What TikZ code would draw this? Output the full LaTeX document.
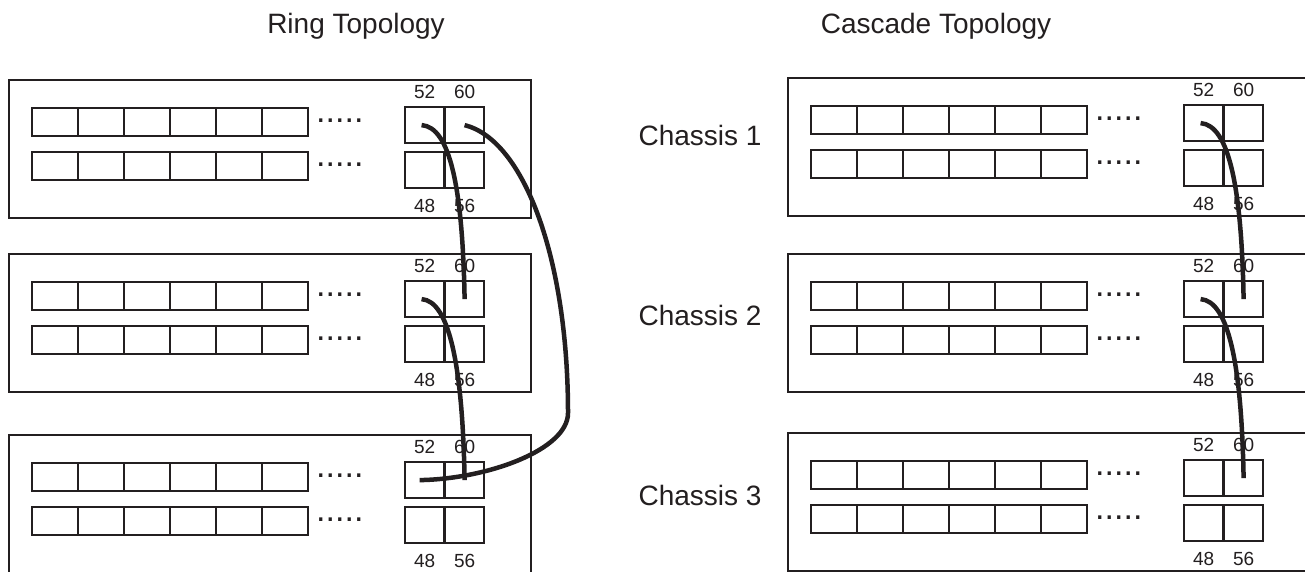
\documentclass[tikz,border=0pt]{standalone}
\usepackage{fontspec}
\setmainfont{Liberation Sans}
\usepackage{tikz}
\usetikzlibrary{positioning}
\definecolor{cableblack}{RGB}{35,31,32}

\tikzset{
  chassisbox/.style={draw=cableblack, line width=1.7pt, minimum width=522pt, minimum height=138pt, inner sep=0pt, anchor=north west},
  cell/.style={draw=cableblack, line width=2.4pt, minimum width=46pt, minimum height=28pt, inner sep=0pt, anchor=north west},
  port/.style={draw=cableblack, line width=2.2pt, minimum width=39pt, minimum height=36pt, inner sep=0pt, anchor=north west},
  portnum/.style={text=cableblack, font=\fontsize{19}{22}\selectfont, inner sep=0pt},
  heading/.style={text=cableblack, font=\fontsize{28}{33}\selectfont, inner sep=0pt, anchor=base},
  dotrow/.style={text=cableblack, font=\fontsize{34}{40}\selectfont, inner sep=0pt, anchor=base west},
  cable/.style={draw=cableblack, line width=4.5pt}
}

\begin{document}
\begin{tikzpicture}[x=1pt, y=-1pt]
  \useasboundingbox[fill=white] (0,0) rectangle (1305,571);

  \node[heading] (ringtitle) at (356,33) {Ring Topology};
  \node[heading] (cascadetitle) at (936,33) {Cascade Topology};

  \foreach \n/\YL/\YR in {1/79/77, 2/253/253, 3/434/432}{
    \foreach \col/\X/\Y in {L/8/\YL, R/787/\YR}{
      \node[chassisbox] (\col\n) at (\X,\Y) {};
      \foreach \i in {0,...,5}{
        \node[cell] (\col\n-a\i) at (\X+23+46*\i,\Y+28) {};
        \node[cell] (\col\n-b\i) at (\X+23+46*\i,\Y+72) {};
      }
      \node[dotrow] (\col\n-dotsa) at (\X+308,\Y+43) {.....};
      \node[dotrow] (\col\n-dotsb) at (\X+308,\Y+87) {.....};
      \node[port] (\col\n-52) at (\X+396,\Y+27) {};
      \node[port] (\col\n-60) at (\X+436,\Y+27) {};
      \node[port] (\col\n-48) at (\X+396,\Y+72) {};
      \node[port] (\col\n-56) at (\X+436,\Y+72) {};
      \node[portnum, above=7.5pt of \col\n-52] (\col\n-n52) {52};
      \node[portnum, above=7.5pt of \col\n-60] (\col\n-n60) {60};
      \node[portnum, below=9.5pt of \col\n-48] (\col\n-n48) {48};
      \node[portnum, below=9.5pt of \col\n-56] (\col\n-n56) {56};
    }
    \node[heading] (chassis\n) at (700,-35+180*\n) {Chassis \n};
  }

  \draw[cable] ([xshift=-3pt]L1-52.center) .. controls +(28,2) and +(-2,-113) .. (L2-60.center);
  \draw[cable] ([xshift=-3pt]L2-52.center) .. controls +(28,2) and +(-2,-113) .. (L3-60.center);
  \draw[cable] ([xshift=-3pt]R1-52.center) .. controls +(28,2) and +(-2,-113) .. (R2-60.center);
  \draw[cable] ([xshift=-3pt]R2-52.center) .. controls +(28,2) and +(-2,-113) .. (R3-60.center);

  \coordinate (ringbend) at (568,413);
  \draw[cable] (L1-60.center) .. controls +(60,15) and +(0,-153) .. (ringbend)
    .. controls +(0,37) and +(67,-1) .. ([xshift=-5pt]L3-52.center);
\end{tikzpicture}
\end{document}
